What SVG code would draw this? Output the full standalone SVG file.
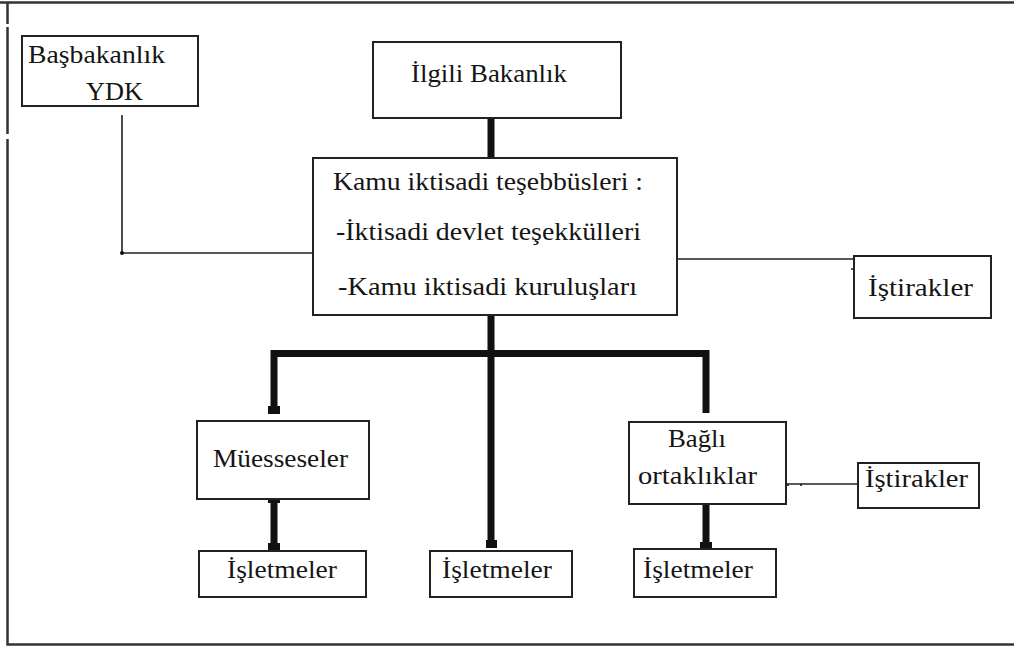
<svg xmlns="http://www.w3.org/2000/svg" width="1014" height="646" viewBox="0 0 1014 646">
<style>
.box{fill:#fff;stroke:#222;stroke-width:2}
.t{font-family:'Liberation Serif','DejaVu Serif','Times New Roman',serif;font-size:25px;fill:#151515}
.thin{stroke:#222;stroke-width:1.6;fill:none}
.thick{stroke:#111;stroke-width:7;fill:none}
.cap{fill:#111}
.frame{stroke:#333;stroke-width:2.5;fill:none}
</style>
<rect width="1014" height="646" fill="#fff"/>
<g id="frame">
<path class="frame" d="M0 2.5H1014M7.5 2V24M7.5 27V134M7.5 139V644.5H1014"/>
</g>
<g id="connectors">
<path class="thin" d="M122 115V253H316"/>
<circle cx="122" cy="253" r="2" fill="#111"/>
<path class="thin" d="M677 259H856M851 269H857"/>
<path class="thin" d="M786 484H858"/>
<circle cx="788" cy="485" r="1" fill="#111"/>
<circle cx="801" cy="485" r="1" fill="#111"/>
<path class="thick" d="M491 118V160"/>
<path class="thick" d="M491 315V547"/>
<path class="thick" d="M272 353.5H709M274 350V413M706 350V413"/>
<path class="thick" d="M274 499V549"/>
<path class="thick" d="M706 504V548"/>
<rect class="cap" x="268" y="406" width="12" height="8"/>
<rect class="cap" x="486" y="540" width="11" height="8"/>
<rect class="cap" x="268" y="498" width="12" height="5"/>
<rect class="cap" x="268" y="543" width="12" height="8"/>
<rect class="cap" x="700" y="542" width="12" height="7"/>
<path d="M375 302H538" stroke="#ddd" stroke-width="1"/>
</g>
<g font-family="Liberation Serif, DejaVu Serif, serif">
<g id="basbakanlik">
<rect class="box" x="22" y="36" width="176" height="70"/>
<text class="t" x="28" y="63" textLength="137" lengthAdjust="spacingAndGlyphs">Başbakanlık</text>
<text class="t" x="86" y="100" textLength="57" lengthAdjust="spacingAndGlyphs">YDK</text>
</g>
<g id="ilgili-bakanlik">
<rect class="box" x="373" y="42" width="248" height="76"/>
<text class="t" x="411" y="82" textLength="156" lengthAdjust="spacingAndGlyphs">İlgili Bakanlık</text>
</g>
<g id="kit">
<rect class="box" x="313" y="158" width="364" height="157"/>
<text class="t" x="333" y="190" textLength="310" lengthAdjust="spacingAndGlyphs">Kamu iktisadi teşebbüsleri :</text>
<text class="t" x="336" y="240" textLength="305" lengthAdjust="spacingAndGlyphs">-İktisadi devlet teşekkülleri</text>
<text class="t" x="338" y="295" textLength="299" lengthAdjust="spacingAndGlyphs">-Kamu iktisadi kuruluşları</text>
</g>
<g id="istirakler1">
<rect class="box" x="854" y="256" width="137" height="62"/>
<text class="t" x="868" y="296" textLength="105" lengthAdjust="spacingAndGlyphs">İştirakler</text>
</g>
<g id="muesseseler">
<rect class="box" x="197" y="421" width="172" height="78"/>
<text class="t" x="213" y="467" textLength="135" lengthAdjust="spacingAndGlyphs">Müesseseler</text>
</g>
<g id="bagli-ortakliklar">
<rect class="box" x="629" y="422" width="157" height="82"/>
<text class="t" x="668" y="447" textLength="58" lengthAdjust="spacingAndGlyphs">Bağlı</text>
<text class="t" x="638" y="484" textLength="119" lengthAdjust="spacingAndGlyphs">ortaklıklar</text>
</g>
<g id="istirakler2">
<rect class="box" x="858" y="463" width="121" height="45"/>
<text class="t" x="865" y="487" textLength="103" lengthAdjust="spacingAndGlyphs">İştirakler</text>
</g>
<g id="isletmeler1">
<rect class="box" x="199" y="551" width="167" height="46"/>
<text class="t" x="227" y="578" textLength="110" lengthAdjust="spacingAndGlyphs">İşletmeler</text>
</g>
<g id="isletmeler2">
<rect class="box" x="430" y="551" width="142" height="46"/>
<text class="t" x="442" y="578" textLength="110" lengthAdjust="spacingAndGlyphs">İşletmeler</text>
</g>
<g id="isletmeler3">
<rect class="box" x="634" y="549" width="142" height="48"/>
<text class="t" x="643" y="578" textLength="110" lengthAdjust="spacingAndGlyphs">İşletmeler</text>
</g>
</g>
</svg>
